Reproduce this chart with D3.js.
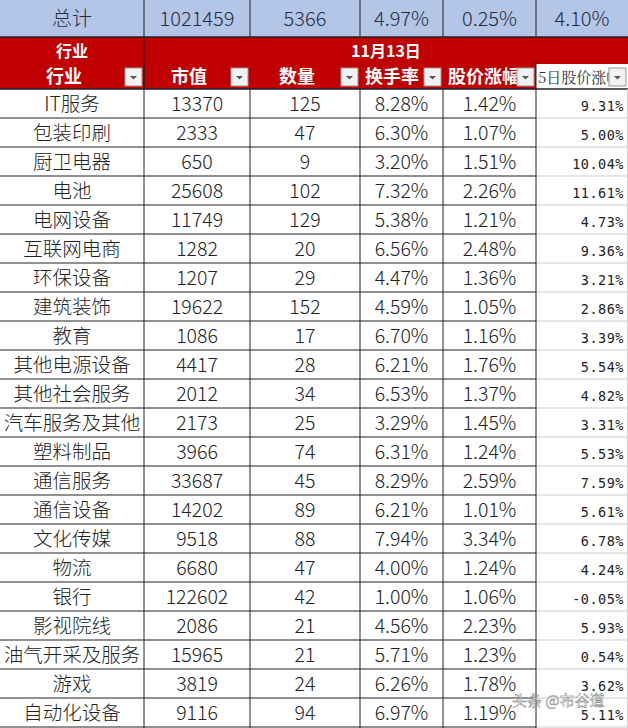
<!DOCTYPE html>
<html><head><meta charset="utf-8">
<script src="https://cdn.jsdelivr.net/npm/d3@7"></script>
<style>body{margin:0;background:#fff}</style></head>
<body><svg id="c" width="628" height="728"></svg>
<script>
const totals = ["总计","1021459","5366","4.97%","0.25%","4.10%"];
const headers = ["行业","市值","数量","换手率","股价涨幅","5日股价涨幅"];
const industries = ["IT服务","包装印刷","厨卫电器","电池","电网设备","互联网电商","环保设备","建筑装饰","教育","其他电源设备","其他社会服务","汽车服务及其他","塑料制品","通信服务","通信设备","文化传媒","物流","银行","影视院线","油气开采及服务","游戏","自动化设备"];
const marketCap = [13370,2333,650,25608,11749,1282,1207,19622,1086,4417,2012,2173,3966,33687,14202,9518,6680,122602,2086,15965,3819,9116];
const counts = [125,47,9,102,129,20,29,152,17,28,34,25,74,45,89,88,47,42,21,21,24,94];
const turnover = ["8.28%","6.30%","3.20%","7.32%","5.38%","6.56%","4.47%","4.59%","6.70%","6.21%","6.53%","3.29%","6.31%","8.29%","6.21%","7.94%","4.00%","1.00%","4.56%","5.71%","6.26%","6.97%"];
const priceChg = ["1.42%","1.07%","1.51%","2.26%","1.21%","2.48%","1.36%","1.05%","1.16%","1.76%","1.37%","1.45%","1.24%","2.59%","1.01%","3.34%","1.24%","1.06%","2.23%","1.23%","1.78%","1.19%"];
const chg5d = ["9.31%","5.00%","10.04%","11.61%","4.73%","9.36%","3.21%","2.86%","3.39%","5.54%","4.82%","3.31%","5.53%","7.59%","5.61%","6.78%","4.24%","-0.05%","5.93%","0.54%","3.62%","5.11%"];

const svg = d3.select("#c");
const colEdges = [0,144,250,360,443,536,628];
const x = i => colEdges[i], w = i => colEdges[i+1]-colEdges[i];
const font = "'Noto Sans CJK SC','Microsoft YaHei',sans-serif";
const red = "#c00000";
const yRow = d3.scaleLinear().domain([0,22]).range([89,89+29*22]);

svg.append("rect").attr("x",0).attr("y",0).attr("width",628).attr("height",37).attr("fill","#b4c6e7");
totals.forEach((t,i)=>{
  svg.append("text").attr("x",x(i)+w(i)/2).attr("y",26).attr("text-anchor","middle")
    .attr("font-family",font).attr("font-weight",300).attr("font-size",20).attr("fill","#1f2a44").text(t);
  if(i>0) svg.append("line").attr("x1",x(i)).attr("x2",x(i)).attr("y1",0).attr("y2",37).attr("stroke","#222");
});
svg.append("rect").attr("x",0).attr("y",37).attr("width",628).attr("height",52).attr("fill",red);
svg.append("rect").attr("x",536).attr("y",64).attr("width",92).attr("height",25).attr("fill","#fff");
svg.append("line").attr("x1",0).attr("x2",628).attr("y1",37).attr("y2",37).attr("stroke","#222").attr("stroke-width",1.5);
svg.append("line").attr("x1",144).attr("x2",144).attr("y1",37).attr("y2",89).attr("stroke","#222");
svg.append("text").attr("x",72).attr("y",57).attr("text-anchor","middle").attr("font-family",font).attr("font-weight","bold").attr("font-size",16).attr("fill","#fff").text(headers[0]);
svg.append("text").attr("x",386).attr("y",57).attr("text-anchor","middle").attr("font-family",font).attr("font-weight","bold").attr("font-size",16).attr("fill","#fff").text("11月13日");
const defs = svg.append("defs");
headers.forEach((h,i)=>{
  const last = i===5;
  defs.append("clipPath").attr("id","cp"+i).append("rect").attr("x",x(i)).attr("y",62).attr("width",w(i)-(last?10:0)).attr("height",27);
  const tx = i>=3 ? (last? x(i)+2 : x(i)+5) : x(i)+w(i)/2-8;
  svg.append("text").attr("clip-path","url(#cp"+i+")").attr("x",tx).attr("y",83)
    .attr("text-anchor", i>=3?"start":"middle")
    .attr("font-family", last? "'Noto Serif CJK SC','Noto Sans CJK SC',serif":font).attr("font-weight",last?"normal":"bold")
    .attr("font-size",last?15:18).attr("fill",last?"#333":"#fff").text(h);
  const bx = x(i+1)-19;
  svg.append("rect").attr("x",bx).attr("y",68).attr("width",17).attr("height",18).attr("fill","#f2f2f2").attr("stroke","#999");
  svg.append("path").attr("d",`M${bx+5},76 l7,0 l-3.5,3.5z`).attr("fill","#555");
});
const rows = industries.map((d,i)=>[d,marketCap[i],counts[i],turnover[i],priceChg[i],chg5d[i]]);
rows.forEach((r,ri)=>{
  const y0 = yRow(ri), y1 = yRow(ri+1);
  r.forEach((v,i)=>{
    const last = i===5;
    svg.append("text").attr("x", last? 624 : x(i)+w(i)/2).attr("y",(y0+y1)/2+7)
      .attr("text-anchor", last?"end":"middle")
      .attr("font-family", last? "'DejaVu Sans Mono',monospace" : font)
      .attr("font-weight", last?"normal":300)
      .attr("font-size", last?13.5:19.5).attr("letter-spacing", last?0.5:0).attr("fill","#222").text(v);
  });
  svg.append("line").attr("x1",0).attr("x2",536).attr("y1",y1).attr("y2",y1).attr("stroke","#222");
  svg.append("line").attr("x1",536).attr("x2",628).attr("y1",y1).attr("y2",y1).attr("stroke","#ccc");
});
svg.append("line").attr("x1",0).attr("x2",628).attr("y1",89).attr("y2",89).attr("stroke","#222").attr("stroke-width",1.5);
for(let i=1;i<=5;i++) svg.append("line").attr("x1",x(i)).attr("x2",x(i)).attr("y1",i==1?62:89).attr("y2",728).attr("stroke","#222");
svg.append("line").attr("x1",536).attr("x2",536).attr("y1",62).attr("y2",89).attr("stroke","#222");
svg.append("line").attr("x1",627.5).attr("x2",627.5).attr("y1",89).attr("y2",728).attr("stroke","#ccc");
svg.append("text").attr("x",512).attr("y",706).attr("font-family",font).attr("font-size",15).attr("fill","#fff").attr("stroke","#555").attr("stroke-width",0.4).attr("opacity",0.9).text("头条 @布谷道");
</script></body></html>
